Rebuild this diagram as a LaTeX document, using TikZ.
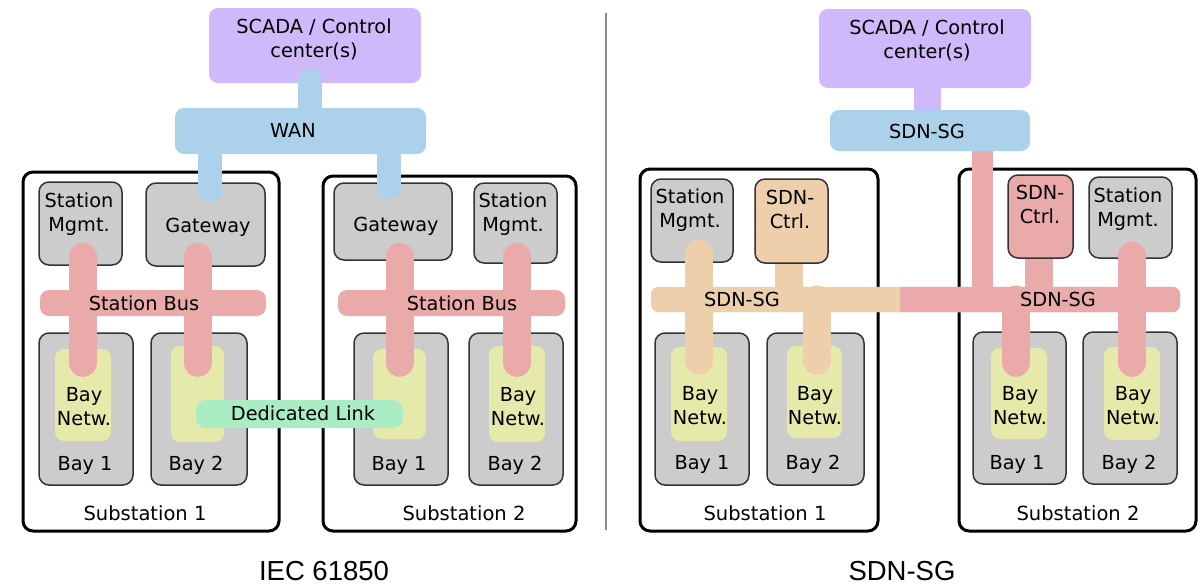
\documentclass[tikz,border=0pt]{standalone}
\usepackage{fontspec}
\setmainfont{DejaVu Sans}
\newfontfamily\captionfont{Liberation Sans}
\usetikzlibrary{fit,calc}
\definecolor{ScadaClr}{RGB}{208,185,250}
\definecolor{WanClr}{RGB}{172,210,235}
\definecolor{BusClr}{RGB}{235,170,170}
\definecolor{BayClr}{RGB}{204,204,204}
\definecolor{NetwClr}{RGB}{229,234,170}
\definecolor{LinkClr}{RGB}{170,236,196}
\definecolor{CtrlClr}{RGB}{238,207,172}
\definecolor{EdgeClr}{RGB}{51,51,51}

\tikzset{
  lbl/.style={font=\fontsize{19.3}{24}\selectfont, inner sep=0, align=center, anchor=base},
  sublbl/.style={lbl, font=\fontsize{19.5}{24}\selectfont},
  figcap/.style={font=\captionfont\fontsize{27.5}{30}\selectfont, inner sep=0, anchor=base},
  station/.style={draw=black, line width=3, rounded corners=10, inner sep=0},
  unit/.style={draw=EdgeClr, line width=1.5, fill=#1, rounded corners=10, inner sep=0},
  patch/.style={fill=#1, rounded corners=9, inner sep=0},
  pipe/.style 2 args={draw=#1, line width=#2, line cap=round},
  flatpipe/.style 2 args={draw=#1, line width=#2},
}

\begin{document}
\begin{tikzpicture}[x=1pt,y=-1pt]
\useasboundingbox (0,0) rectangle (1198,584);

% ---------------- IEC 61850 ----------------
\node[station, fit={(23,172) (279,531)}] (subA) {};
\node[station, fit={(323,176) (576,531)}] (subB) {};

\node[unit=BayClr, fit={(39,182) (122,265)}] (mgmtA) {};
\node[unit=BayClr, fit={(146,183) (265,266)}] (gwA) {};
\node[unit=BayClr, fit={(334,183) (452,260)}] (gwB) {};
\node[unit=BayClr, fit={(474,183) (557,263)}] (mgmtB) {};

\node[unit=BayClr, fit={(39,333) (133,485)}] (bayA1) {};
\node[unit=BayClr, fit={(151,333) (247,485)}] (bayA2) {};
\node[unit=BayClr, fit={(354,333) (448,485)}] (bayB1) {};
\node[unit=BayClr, fit={(469,333) (563,485)}] (bayB2) {};

\node[patch=NetwClr, fit={(55,349) (111,441)}] (netwA1) {};
\node[patch=NetwClr, fit={(171,346) (224,442)}] (netwA2) {};
\node[patch=NetwClr, fit={(373,349) (426,439)}] (netwB1) {};
\node[patch=NetwClr, fit={(489,346) (545,442)}] (netwB2) {};

\node[patch=ScadaClr, fit={(209,8) (421,83)}] (scadaA) {};
\node[patch=WanClr, fit={(175,108) (426,154)}] (wanA) {};

% WAN taps
\draw[pipe={WanClr}{24}] ([xshift=-5,yshift=3]scadaA.south) -- ([xshift=9.5]wanA.center);
\draw[pipe={WanClr}{24}] ([xshift=-90.5]wanA.center) -- ([xshift=4.5,yshift=-8]gwA.north);
\draw[pipe={WanClr}{24}] ([xshift=88.5]wanA.center) -- ([xshift=-4,yshift=-5]gwB.north);

% station bus drops
\draw[pipe={BusClr}{28}] ([yshift=9]mgmtA.south -| netwA1.center) -- ([yshift=-14]netwA1.north);
\draw[pipe={BusClr}{28}] ([yshift=10]gwA.south -| netwA2.center) -- ([yshift=-17]netwA2.north);
\draw[pipe={BusClr}{28}] ([yshift=4]gwB.south -| netwB1.center) -- ([yshift=-14]netwB1.north);
\draw[pipe={BusClr}{28}] ([yshift=7]mgmtB.south -| netwB2.center) -- ([yshift=-17]netwB2.north);

\node[patch=BusClr, fit={(40,290) (266,316)}] (busA) {};
\node[patch=BusClr, fit={(338,290) (565,316)}] (busB) {};

\node[patch=LinkClr, rounded corners=10, fit={(196,400) (403,428)}] (link) {};

\node[lbl] (scadaA-t) at (314,57) {SCADA / Control\\center(s)};
\node[lbl] (wanA-t) at (293,137) {WAN};
\node[lbl] (mgmtA-t) at (79,231) {Station\\Mgmt.};
\node[lbl] (gwA-t) at (208,232) {Gateway};
\node[lbl] (gwB-t) at (396,231) {Gateway};
\node[lbl] (mgmtB-t) at (513,231) {Station\\Mgmt.};
\node[lbl] (busA-t) at (144,310) {Station Bus};
\node[lbl] (busB-t) at (462,310) {Station Bus};
\node[lbl] (netwA1-t) at (84,425) {Bay\\Netw.};
\node[lbl] (netwB2-t) at (518,425) {Bay\\Netw.};
\node[lbl] (link-t) at (303,420) {Dedicated Link};
\node[lbl] (bayA1-t) at (85,470) {Bay 1};
\node[lbl] (bayA2-t) at (196,470) {Bay 2};
\node[lbl] (bayB1-t) at (399,470) {Bay 1};
\node[lbl] (bayB2-t) at (515,470) {Bay 2};
\node[sublbl] (subA-t) at (145,520) {Substation 1};
\node[sublbl] (subB-t) at (464,520) {Substation 2};
\node[figcap] (capA) at (324,580) {IEC 61850};

% divider
\draw[line width=1.5, black!45] (606,13) -- (606,530);

% ---------------- SDN-SG ----------------
\node[station, fit={(640,169) (878,531)}] (subC) {};
\node[station, fit={(959,169) (1196,531)}] (subD) {};

\node[unit=BayClr, fit={(651,179) (733,262)}] (mgmtC) {};
\node[unit=CtrlClr, fit={(755,179) (828,263)}] (ctrlC) {};
\node[unit=BusClr, fit={(1008,175) (1073,258)}] (ctrlD) {};
\node[unit=BayClr, fit={(1089,177) (1172,258)}] (mgmtD) {};

\node[unit=BayClr, fit={(655,333) (749,485)}] (bayC1) {};
\node[unit=BayClr, fit={(767,333) (864,485)}] (bayC2) {};
\node[unit=BayClr, fit={(973,332) (1066,484)}] (bayD1) {};
\node[unit=BayClr, fit={(1083,332) (1177,484)}] (bayD2) {};

\node[patch=NetwClr, fit={(671,347) (727,441)}] (netwC1) {};
\node[patch=NetwClr, fit={(787,346) (842,438)}] (netwC2) {};
\node[patch=NetwClr, fit={(991,348) (1047,439)}] (netwD1) {};
\node[patch=NetwClr, fit={(1104,347) (1160,440)}] (netwD2) {};

\node[patch=ScadaClr, fit={(819,9) (1031,88)}] (scadaC) {};
\node[patch=WanClr, fit={(830,110) (1030,151)}] (sdnC) {};
\draw[flatpipe={ScadaClr}{27}] ([xshift=2.5]scadaC.south) -- ([xshift=2.5]scadaC.south |- sdnC.north);

\node[patch=CtrlClr, rounded corners=8, fit={(651,287) (1180,312)}] (busC) {};

% uplink and drops
\draw[flatpipe={BusClr}{21}] ([xshift=52]sdnC.south) -- ([xshift=52]sdnC.south |- busC.center);
\draw[pipe={CtrlClr}{28}] ([yshift=9]mgmtC.south -| netwC1.center) -- ([yshift=-14]netwC1.north);
\draw[flatpipe={CtrlClr}{28}] ([xshift=-2.5]ctrlC.south) -- ([xshift=-2.5]ctrlC.south |- busC.center);
\draw[pipe={CtrlClr}{28}] ([xshift=2.5]netwC2.north |- busC.center) -- ([xshift=2.5,yshift=-15]netwC2.north);
\draw[flatpipe={BusClr}{28}] ([xshift=-1.5]ctrlD.south) -- ([xshift=-1.5]ctrlD.south |- busC.center);
\draw[pipe={BusClr}{28}] ([yshift=3]mgmtD.south -| netwD2.center) -- ([yshift=-16]netwD2.north);
\draw[pipe={BusClr}{28}] ([xshift=-3]netwD1.north |- busC.center) -- ([xshift=-3,yshift=-15]netwD1.north);

% bus: controller 1 domain left, controller 2 domain right
\fill[CtrlClr, rounded corners=8] (busC.north west) rectangle (busC.south east);
\begin{scope}
  \clip (900,280) rectangle (1190,320);
  \fill[BusClr, rounded corners=8] (busC.north west) rectangle (busC.south east);
\end{scope}

\node[lbl] (scadaC-t) at (927,58) {SCADA / Control\\center(s)};
\node[lbl] (sdnC-t) at (927,138) {SDN-SG};
\node[lbl] (mgmtC-t) at (690,227) {Station\\Mgmt.};
\node[lbl] (ctrlC-t) at (790,228) {SDN-\\Ctrl.};
\node[lbl] (ctrlD-t) at (1040,223) {SDN-\\Ctrl.};
\node[lbl] (mgmtD-t) at (1128,226) {Station\\Mgmt.};
\node[lbl] (busC-t1) at (742,306) {SDN-SG};
\node[lbl] (busC-t2) at (1058,306) {SDN-SG};
\node[lbl] (netwC1-t) at (700,424) {Bay\\Netw.};
\node[lbl] (netwC2-t) at (815,424) {Bay\\Netw.};
\node[lbl] (netwD1-t) at (1020,424) {Bay\\Netw.};
\node[lbl] (netwD2-t) at (1133,424) {Bay\\Netw.};
\node[lbl] (bayC1-t) at (702,469) {Bay 1};
\node[lbl] (bayC2-t) at (813,469) {Bay 2};
\node[lbl] (bayD1-t) at (1017,469) {Bay 1};
\node[lbl] (bayD2-t) at (1129,469) {Bay 2};
\node[sublbl] (subC-t) at (765,520) {Substation 1};
\node[sublbl] (subD-t) at (1078,520) {Substation 2};
\node[figcap] (capB) at (902,580) {SDN-SG};

\end{tikzpicture}
\end{document}
